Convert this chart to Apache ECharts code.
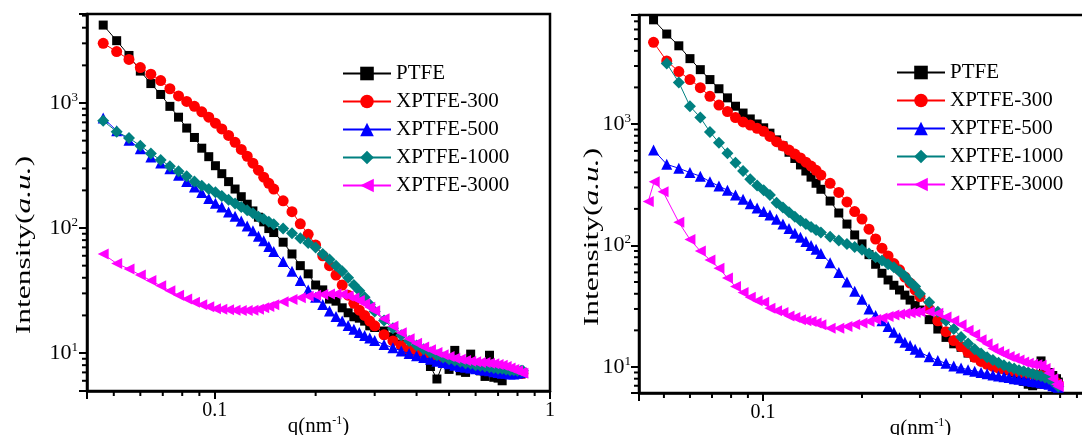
<!DOCTYPE html>
<html><head><meta charset="utf-8">
<script src="https://cdn.jsdelivr.net/npm/echarts@6/dist/echarts.min.js"></script>
<style>html,body{margin:0;padding:0;background:#fff}#c{width:1082px;height:435px}</style>
</head><body><div id="c"></div><script>
const seriesNames = ['PTFE','XPTFE-300','XPTFE-500','XPTFE-1000','XPTFE-3000'];
const xMinorTicks = [0.05,0.06,0.07,0.08,0.09,0.2,0.3,0.4,0.5,0.6,0.7,0.8,0.9];
const yMinorTicks = [6,7,8,9,20,30,40,50,60,70,80,90,200,300,400,500,600,700,800,900,2000,3000,4000,5000,6000,7000];

// ---- left panel ----
const qLeft = [0.0465,0.051,0.0555,0.06,0.0645,0.069,0.0735,0.078,0.0825,0.087,0.0915,0.096,
  0.1005,0.105,0.11,0.115,0.12,0.125,0.13,0.135,0.14,0.145,0.15,
  0.16,0.17,0.18,0.19,0.2,0.21,0.22,0.23,0.24,0.25,0.26,0.27,0.28,0.29,0.3,
  0.32,0.34,0.36,0.38,0.4,0.42,0.44,0.46,0.48,0.5,0.52,0.54,0.56,0.58,0.6,0.62,0.64,0.66,0.68,0.7,0.72,0.74,0.76,0.78,0.8,0.82,0.83];
const ptfeL = [4200,3150,2400,1800,1430,1170,940,770,630,530,435,372,
  315,272,235,205,178,155,137,122,112,99,92,
  77,62,50,43,35,32,27,26,23,21,19.5,19,18,16.5,16,
  15,13.5,11.8,10.2,9.6,9.2,7.8,6.2,8.3,7.4,10.5,7.2,7.0,9.8,7.6,7.2,6.5,9.6,6.4,6.3,6.0,7.6,7.2,7.0,6.9,6.8,6.9];
const x300L = [3000,2580,2230,1920,1700,1510,1300,1140,1030,940,850,770,
  690,620,550,485,425,375,330,290,255,228,205,
  165,135,108,89,73,60,50,42,35,29,25,22,20,18,16.5,
  14,12.5,11.5,10.6,10,9.5,9.1,8.8,8.6,8.4,8.3,8.2,8.1,8.0,7.9,7.8,7.8,7.7,7.6,7.5,7.4,7.3,7.2,7.1,7.0,6.9,6.9];
const x500L = [760,600,503,431,370,331,298,264,236,213,192,172,
  158,147,134,124,114,104,95,86,79,71,65,
  54,45,38,32,28,24.5,21.7,19.6,18,16.6,15.5,14.6,13.8,13.2,12.6,
  11.7,11,10.4,9.9,9.5,9.2,8.9,8.6,8.4,8.2,8.0,7.8,7.7,7.6,7.5,7.4,7.3,7.2,7.1,7.0,6.9,6.9,6.8,6.8,6.9,7.0,7.0];
const x1000L = [720,590,525,455,395,350,312,285,260,235,218,205,
  193,180,168,157,147,139,131,123,118,112,107,
  99,91,83,76,70,62,56,50,45,40,35,31.5,28,24.5,21.5,
  18.2,15.8,13.9,12.5,11.5,10.7,10.1,9.6,9.2,8.9,8.7,8.5,8.3,8.2,8.0,7.9,7.8,7.7,7.6,7.5,7.5,7.4,7.3,7.3,7.2,7.2,7.2];
const x3000L = [62,52,47,42,38,34.5,31.5,29,27,25.5,24.3,23.5,
  22.6,22.4,22.2,22.0,21.9,21.9,22.0,22.4,23.0,23.6,24.3,
  25.7,26.8,27.7,28.5,29.0,29.4,29.7,29.7,29.4,28.6,27.5,26.3,24.8,23.2,21.8,
  18.8,16.4,14.5,13.0,12.0,11.2,10.6,10.1,9.7,9.4,9.1,8.9,8.7,8.6,8.5,8.4,8.4,8.3,8.2,8.1,8.0,7.8,7.6,7.4,7.2,7.0,6.9];

// ---- right panel ----
const qRight = [0.0465,0.051,0.0555,0.06,0.0645,0.069,0.0735,0.078,0.0825,0.087,0.0915,0.096,
  0.1005,0.105,0.11,0.115,0.12,0.125,0.13,0.135,0.14,0.145,0.15,
  0.16,0.17,0.18,0.19,0.2,0.21,0.22,0.23,0.24,0.25,0.26,0.27,0.28,0.29,0.3,
  0.32,0.34,0.36,0.38,0.4,0.42,0.44,0.46,0.48,0.5,0.52,0.54,0.56,0.58,0.6,0.62,0.64,0.66,0.68,0.7,0.72,0.74,0.76,0.78,0.79];
const ptfeR = [7200,5500,4400,3450,2800,2320,1950,1640,1400,1230,1100,1000,
  930,840,740,660,585,520,460,410,365,325,290,
  232,185,150,122,103,84,70,59,52,47,43,39,35.5,32,29.4,
  24.5,20.5,17.5,15.5,14.5,13,12,11.4,10.8,10.4,10,9.6,9.3,9.0,8.5,7.6,7.2,7.0,7.2,11.2,9.5,9.0,8.5,8.0,7.5];
const x300R = [4700,3300,2700,2320,1990,1690,1430,1264,1130,1040,980,920,
  870,790,715,660,610,565,525,485,450,415,380,
  325,273,228,190,165,136,113,95,82,71,63,55,49,43,38,
  30,24,19.5,16.5,14.7,13.2,12,11.1,10.5,10.1,9.8,9.6,9.4,9.2,9.0,8.9,8.8,8.7,8.6,8.5,8.3,8.1,7.8,7.4,7.2];
const x500R = [611,465,432,398,372,335,308,285,260,240,220,203,
  190,178,164,150,138,126,117,108,100,93,86,
  72,60,50,42,36,30,26.5,24,21.5,19.3,17.4,16.0,15.0,14.0,13.2,
  12.1,11.3,10.7,10.2,9.8,9.5,9.2,9.0,8.8,8.6,8.4,8.3,8.2,8.0,7.9,7.8,7.7,7.6,7.5,7.4,7.3,7.2,7.0,6.9,6.8];
const x1000R = [null,3150,2200,1400,1130,860,700,575,480,410,350,312,
  285,260,225,205,188,172,160,150,142,134,128,
  118,110,103,97,92,86,80,75,70,66,61,56,50,46,40,
  34,28.5,24,20.5,17.6,15.6,14,12.9,12,11.4,10.8,10.3,10,9.7,9.4,9.2,9.0,8.8,8.6,8.4,8.2,8.0,7.6,7.2,6.9];
const x3000RHeadQ = [0.0448, 0.0467, 0.0497];
const x3000RHead = [230, 335, 277];
const x3000R = [null,null,155,112,90,76,65,54,46,41,37.5,35,
  34,30.4,29,28,26.3,25.5,24.4,24,23.6,23,22.2,
  20.8,20.8,21.5,22.4,23,23.6,24.6,25.3,26,26.8,27.1,27.5,27.9,28.2,28.5,
  28.5,27.7,25.8,24,22.2,20,18.5,16.7,15.5,14.2,13.4,12.8,12.2,11.8,11.4,11.0,10.7,10.5,10.4,10.3,9.7,8.9,8.0,7.2,6.9];

const FONT = '"Liberation Serif", "Times New Roman", serif';
const styles = [
  {color:'#000000', symbol:'rect', size:9},
  {color:'#ff0000', symbol:'circle', size:11},
  {color:'#0000ff', symbol:'triangle', size:11},
  {color:'#008080', symbol:'diamond', size:12},
  {color:'#ff00ff', symbol:'triangle', size:11, rotate:90}
];
const panels = [
  {xMin: 0.0416, xMax: 1, yMin: 4.97, yMax: 5150},
  {xMin: 0.042, xMax: 1, yMin: 6.1, yMax: 7890}
];
function pairs(q, v) {
  const out = [];
  for (let i = 0; i < q.length; i++) if (v[i] != null) out.push([q[i], v[i]]);
  return out;
}
const leftData = [ptfeL, x300L, x500L, x1000L, x3000L].map(v => pairs(qLeft, v));
const rightData = [ptfeR, x300R, x500R, x1000R, x3000R].map(v => pairs(qRight, v));
rightData[4] = pairs(x3000RHeadQ, x3000RHead).concat(rightData[4]);

function isPow10(v) { const e = Math.log10(v); return Math.abs(e - Math.round(e)) < 1e-6; }
const axisCol = '#000';
function xAxis(grid, showOne, namePad) {
  const p = panels[grid];
  return {
    gridIndex: grid, type: 'log', logBase: 10, min: p.xMin, max: p.xMax, position: 'bottom',
    axisLine: {show: true, lineStyle: {color: axisCol, width: 2.5}},
    axisTick: {show: true, length: 8, lineStyle: {color: axisCol, width: 2}},
    axisLabel: {margin: 10, color: '#000', fontFamily: FONT, fontSize: 20, showMinLabel: true, showMaxLabel: true,
      formatter: v => (Math.abs(v - 0.1) < 1e-9 ? '0.1' : ((showOne && Math.abs(v - 1) < 1e-9) ? '1' : ''))},
    splitLine: {show: false},
    name: '{n|q(nm}{s|-1}{n|)}', nameLocation: 'middle', nameGap: 24, nameMoveOverlap: false,
    nameTextStyle: {padding: namePad, rich: {
      n: {fontFamily: FONT, fontSize: 21, color: '#000', lineHeight: 22},
      s: {fontFamily: FONT, fontSize: 12, color: '#000', verticalAlign: 'top', lineHeight: 22}
    }}
  };
}
function yAxis(grid, margin) {
  const p = panels[grid];
  return {
    gridIndex: grid, type: 'log', logBase: 10, min: p.yMin, max: p.yMax, position: 'left',
    axisLine: {show: true, lineStyle: {color: axisCol, width: 2.5}},
    axisTick: {show: true, length: 8, lineStyle: {color: axisCol, width: 2}},
    axisLabel: {margin: margin,
      formatter: v => isPow10(v) ? '{b|10}{s|' + Math.round(Math.log10(v)) + '}' : '',
      rich: {
        b: {fontFamily: FONT, fontSize: 22, color: '#000', lineHeight: 24},
        s: {fontFamily: FONT, fontSize: 13, color: '#000', verticalAlign: 'top', lineHeight: 24}
      }},
    splitLine: {show: false}
  };
}
// minor ticks, placed through the axes' own scales (api.coord)
function tickSeries(grid, isX) {
  const p = panels[grid];
  const data = isX
    ? xMinorTicks.filter(v => v > p.xMin && v < p.xMax).map(v => [v, p.yMin])
    : yMinorTicks.filter(v => v > p.yMin && v < p.yMax).map(v => [p.xMin, v]);
  return {
    type: 'custom', coordinateSystem: 'cartesian2d', xAxisIndex: grid, yAxisIndex: grid,
    silent: true, clip: false, z: 20, animation: false, data: data,
    renderItem: function (params, api) {
      const c = api.coord([api.value(0), api.value(1)]);
      const shape = isX ? {x1: c[0], y1: c[1], x2: c[0], y2: c[1] + 5}
                        : {x1: c[0] - 5, y1: c[1], x2: c[0], y2: c[1]};
      return {type: 'line', shape: shape, style: {stroke: '#000', lineWidth: 2}};
    }
  };
}
function mkSeries(data, gi) {
  return data.map((d, i) => ({
    name: seriesNames[i], type: 'line', data: d, xAxisIndex: gi, yAxisIndex: gi,
    symbol: styles[i].symbol, symbolSize: styles[i].size, symbolRotate: styles[i].rotate || 0,
    itemStyle: {color: styles[i].color},
    lineStyle: {color: styles[i].color, width: 1},
    z: 2 + i, animation: false, clip: true
  }));
}
const legendBase = {
  data: seriesNames, orient: 'vertical', itemWidth: 48, itemHeight: 17, itemGap: 7, padding: 0,
  selectedMode: false, textStyle: {fontFamily: FONT, fontSize: 21, color: '#000'}
};
const yName = {
  text: '{n|Intensity(}{i|a.u.}{n|)}',
  rich: {
    n: {fontFamily: FONT, fontSize: 21, fill: '#000'},
    i: {fontFamily: FONT, fontSize: 21, fontStyle: 'italic', fill: '#000'}
  },
  align: 'center', verticalAlign: 'middle', fill: '#000'
};
const chart = echarts.init(document.getElementById('c'), null, {renderer: 'canvas'});
chart.setOption({
  backgroundColor: '#fff',
  animation: false,
  grid: [
    {left: 87, top: 14, width: 463, height: 377, outerBoundsMode: 'none', containLabel: false,
     show: true, borderColor: '#000', borderWidth: 2.5, backgroundColor: 'transparent'},
    {left: 639, top: 15, width: 453, height: 378, outerBoundsMode: 'none', containLabel: false,
     show: true, borderColor: '#000', borderWidth: 2.5, backgroundColor: 'transparent'}
  ],
  xAxis: [xAxis(0, true, [0, 0, 0, 0]), xAxis(1, false, [0, 0, 0, 110])],
  yAxis: [yAxis(0, 9), yAxis(1, 8)],
  legend: [
    Object.assign({left: 342, top: 63}, legendBase),
    Object.assign({left: 896, top: 62}, legendBase)
  ],
  graphic: [
    {type: 'text', x: 24, y: 245, rotation: Math.PI / 2, scaleX: 1.5, style: yName},
    {type: 'text', x: 592, y: 237, rotation: Math.PI / 2, scaleX: 1.5, style: yName}
  ],
  series: mkSeries(leftData, 0).concat(mkSeries(rightData, 1),
    [tickSeries(0, true), tickSeries(0, false), tickSeries(1, true), tickSeries(1, false)])
});
</script></body></html>
